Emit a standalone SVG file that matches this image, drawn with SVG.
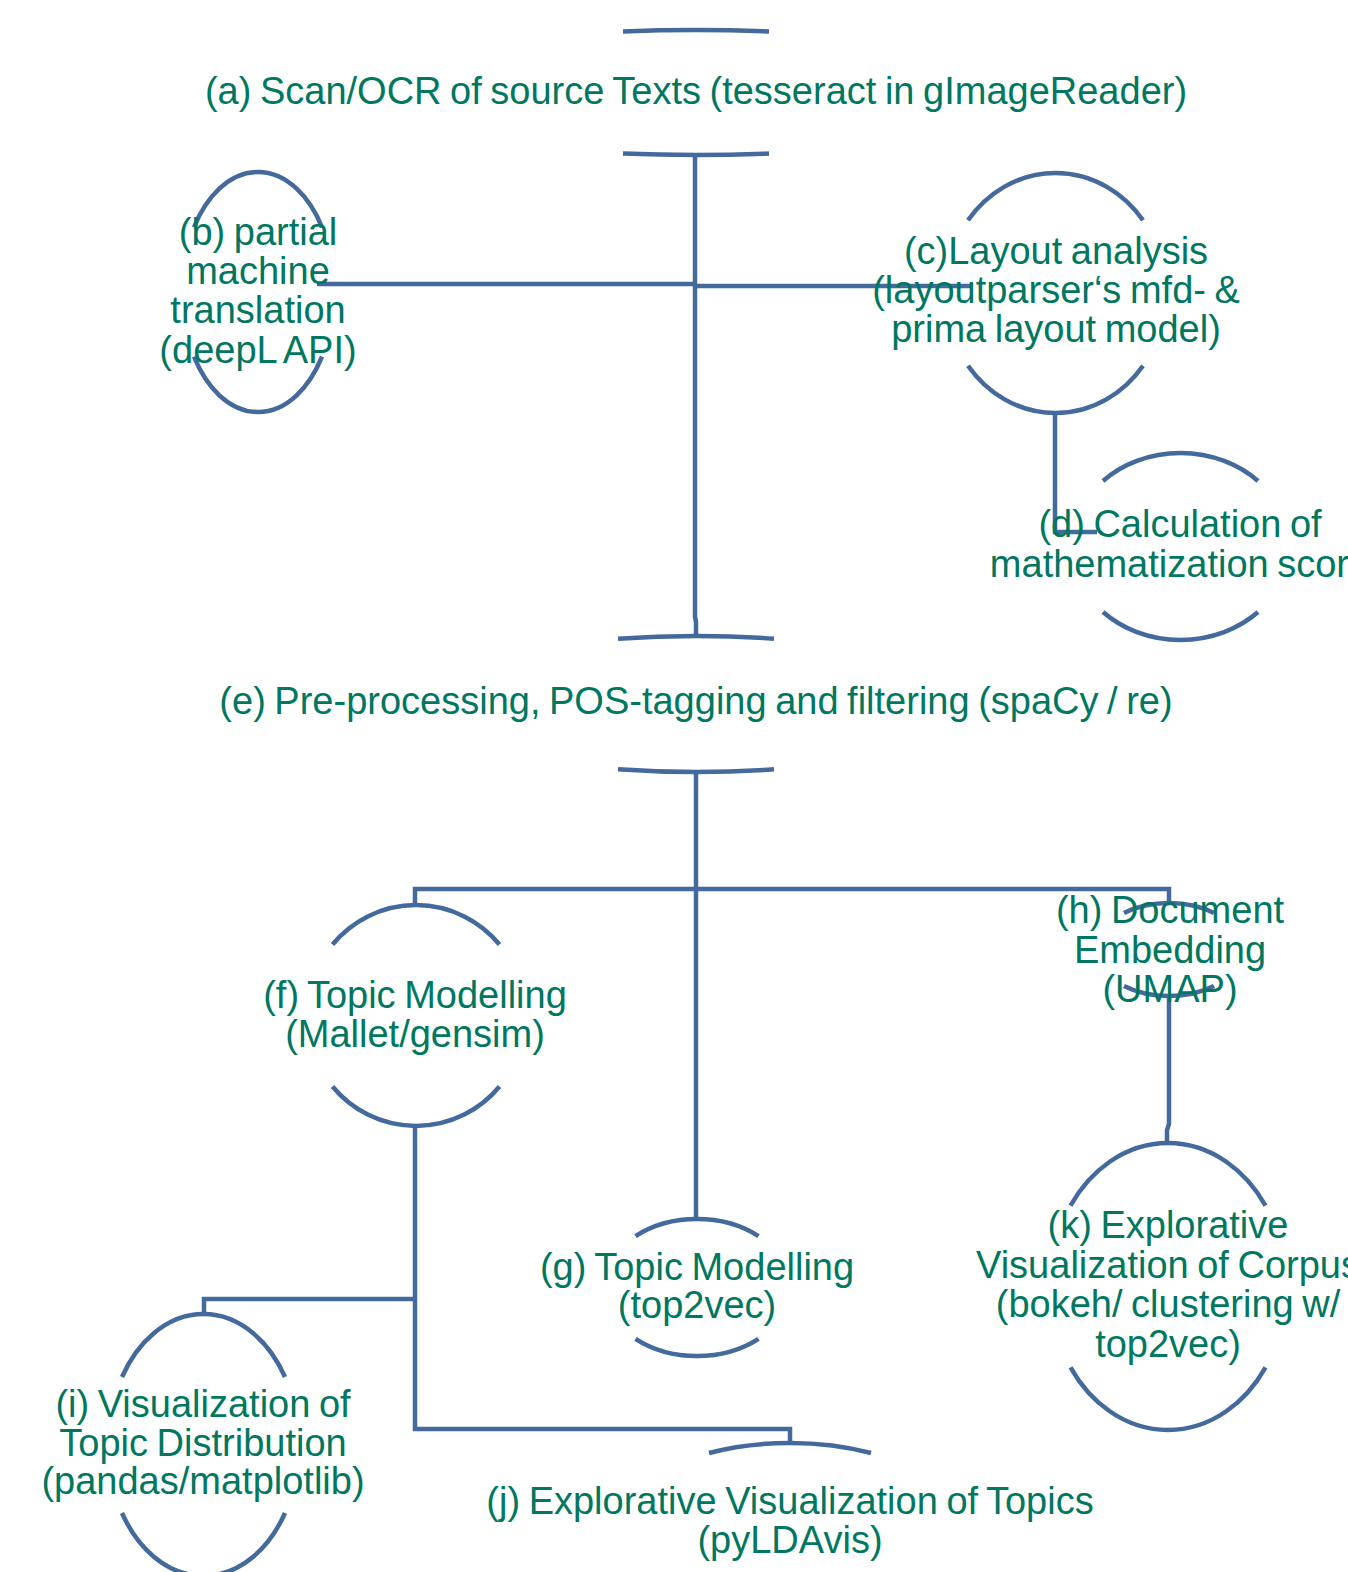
<svg xmlns="http://www.w3.org/2000/svg" width="1348" height="1572" viewBox="0 0 1348 1572">
<style>
.arc{fill:none;stroke:#44699d;stroke-width:4.5}
.con{fill:none;stroke:#44699d;stroke-width:4.5}
text{font-family:"Liberation Sans",Arial,sans-serif;font-size:38px;fill:#00775f;text-anchor:middle;word-spacing:-2px}
</style>
<rect width="1348" height="1572" fill="#ffffff"/>
<g id="connectors">
<path class="con" d="M695,155 V617 L696,622 V636"/>
<path class="con" d="M317,284 H695"/>
<path class="con" d="M695,286 H972"/>
<path class="con" d="M1055,413 V532 H1097"/>
<path class="con" d="M696,771 V1219"/>
<path class="con" d="M415,905 V889 H1169 V903"/>
<path class="con" d="M1169,996 V1124 L1167,1130 V1143"/>
<path class="con" d="M415,1126 V1429 H790 V1443"/>
<path class="con" d="M415,1299 H204 V1314"/>
</g>
<g id="node-a">
<path class="arc" d="M623,31.4 A350,62.5 0 0 1 769,31.4"/>
<path class="arc" d="M769,153.6 A350,62.5 0 0 1 623,153.6"/>
<text x="696" y="104">(a) Scan/OCR of source Texts (tesseract in gImageReader)</text>
</g>
<g id="node-b">
<path class="arc" d="M194,227.3 A76,120 0 0 1 322,227.3"/>
<path class="arc" d="M322,356.7 A76,120 0 0 1 194,356.7"/>
<text x="258" y="245">(b) partial</text>
<text x="258" y="284">machine</text>
<text x="258" y="323">translation</text>
<text x="258" y="363">(deepL API)</text>
</g>
<g id="node-c">
<path class="arc" d="M968,220.3 A110,120 0 0 1 1143,220.3"/>
<path class="arc" d="M1143,365.7 A110,120 0 0 1 968,365.7"/>
<text x="1056" y="264">(c)Layout analysis</text>
<text x="1056" y="303">(layoutparser‘s mfd-  &amp;</text>
<text x="1056" y="342">prima layout model)</text>
</g>
<g id="node-d">
<path class="arc" d="M1103,481 A108.7,93.5 0 0 1 1258,481"/>
<path class="arc" d="M1258,612 A108.7,93.5 0 0 1 1103,612"/>
<text x="1180" y="537">(d) Calculation of</text>
<text x="1180" y="577">mathematization score</text>
</g>
<g id="node-e">
<path class="arc" d="M618,638.7 A280,68 0 0 1 774,638.7"/>
<path class="arc" d="M774,769.3 A280,68 0 0 1 618,769.3"/>
<text x="696" y="714">(e) Pre-processing, POS-tagging and filtering (spaCy / re)</text>
</g>
<g id="node-f">
<path class="arc" d="M332.5,944.5 A109,110.5 0 0 1 499.5,944.5"/>
<path class="arc" d="M499.5,1086.5 A109,110.5 0 0 1 332.5,1086.5"/>
<text x="415" y="1008">(f) Topic Modelling</text>
<text x="415" y="1047">(Mallet/gensim)</text>
</g>
<g id="node-g">
<path class="arc" d="M635.5,1236.1 A93,68.5 0 0 1 758.5,1236.1"/>
<path class="arc" d="M758.5,1338.9 A93,68.5 0 0 1 635.5,1338.9"/>
<text x="697" y="1280">(g) Topic Modelling</text>
<text x="697" y="1318">(top2vec)</text>
</g>
<g id="node-h">
<path class="arc" d="M1124,913 A72.6,46.5 0 0 1 1214,913"/>
<path class="arc" d="M1214,986 A72.6,46.5 0 0 1 1124,986"/>
<text x="1170" y="923">(h) Document</text>
<text x="1170" y="963">Embedding</text>
<text x="1170" y="1002">(UMAP)</text>
</g>
<g id="node-k">
<path class="arc" d="M1070.5,1205.7 A118,143.5 0 0 1 1265.5,1205.7"/>
<path class="arc" d="M1265.5,1367.3 A118,143.5 0 0 1 1070.5,1367.3"/>
<text x="1168" y="1238">(k) Explorative</text>
<text x="1168" y="1278">Visualization of Corpus</text>
<text x="1168" y="1317">(bokeh/ clustering w/</text>
<text x="1168" y="1357">top2vec)</text>
</g>
<g id="node-i">
<path class="arc" d="M122,1377 A95.4,131 0 0 1 285,1377"/>
<path class="arc" d="M285,1513 A95.4,131 0 0 1 122,1513"/>
<text x="203" y="1417">(i) Visualization of</text>
<text x="203" y="1456">Topic Distribution</text>
<text x="203" y="1494">(pandas/matplotlib)</text>
</g>
<g id="node-j">
<path class="arc" d="M709,1453 A164,77 0 0 1 871,1453"/>
<path class="arc" d="M871,1587 A164,77 0 0 1 709,1587"/>
<text x="790" y="1514">(j) Explorative Visualization of Topics</text>
<text x="790" y="1553">(pyLDAvis)</text>
</g>
</svg>
